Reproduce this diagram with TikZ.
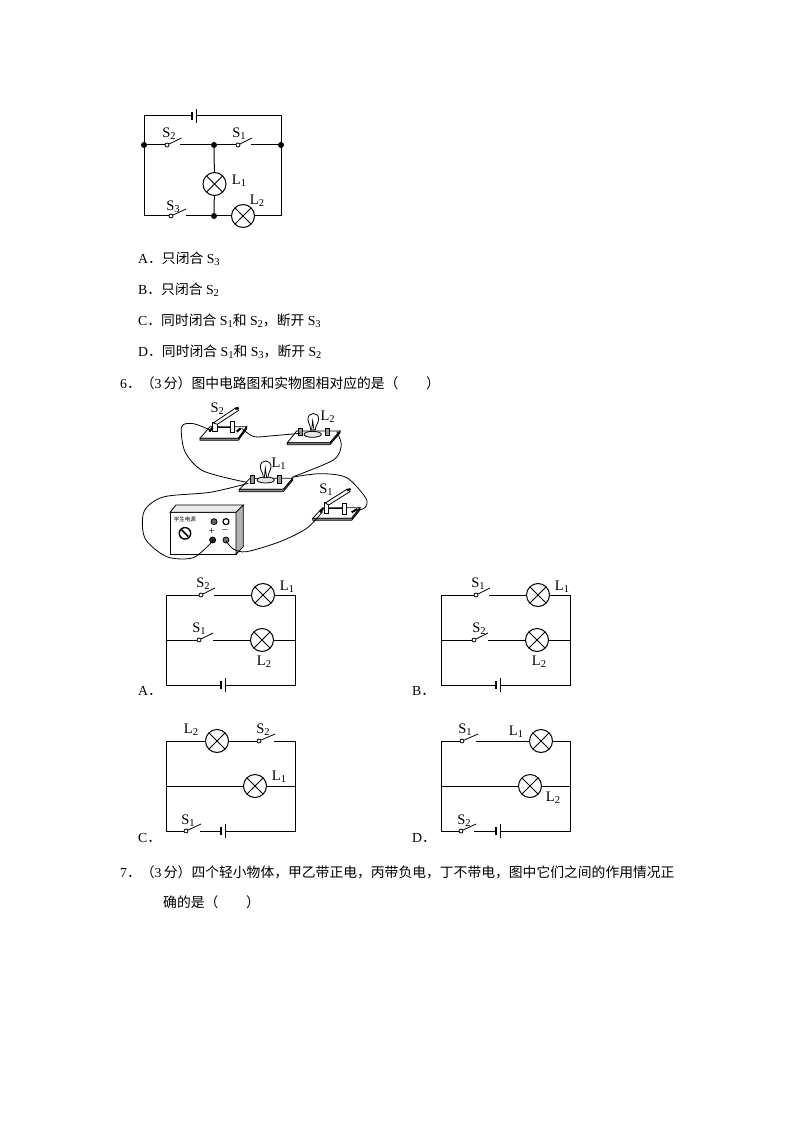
\documentclass[tikz,border=0pt]{standalone}
\usepackage{fontspec}
\setmainfont{Liberation Serif}
\newfontfamily\cjk{Noto Sans CJK SC}
\usetikzlibrary{positioning}
\tikzset{
  lamp/.style={draw,circle,fill=white,minimum size=23pt,inner sep=0,line width=1pt,
    path picture={\draw[line width=.9pt] (path picture bounding box.south west)--(path picture bounding box.north east)
      (path picture bounding box.north west)--(path picture bounding box.south east);}},
  pin/.style={draw,circle,fill=white,minimum size=4pt,inner sep=0,line width=.8pt},
  junc/.style={circle,fill=black,minimum size=6pt,inner sep=0},
  shortplate/.style={fill=black,minimum width=1.1pt,minimum height=8pt,inner sep=0},
  longplate/.style={fill=black,minimum width=1.1pt,minimum height=14pt,inner sep=0},
  lbl/.style={inner sep=0,font=\fontsize{14.5}{14.5}\selectfont},
  txt/.style={inner sep=0,anchor=west,font=\fontsize{13.8}{14}\selectfont},
  wire/.style={line width=1pt},
  thinwire/.style={line width=.8pt}
}
\newcommand{\subn}[1]{\raisebox{-.35ex}{\fontsize{10.5}{10.5}\selectfont #1}}
\begin{document}
\begin{tikzpicture}[x=1pt,y=-1pt]
  \useasboundingbox[fill=white] (0,0) rectangle (794,1123);
  % first circuit
  \coordinate (tl) at (144,116);
  \coordinate (tr) at (281,116);
  \coordinate (bl) at (144,216);
  \coordinate (br) at (281,216);
  \node[junc] (ml) at (144,145) {};
  \node[junc] (mm) at (214,145) {};
  \node[junc] (mr) at (281,145) {};
  \node[junc] (bm) at (214,216) {};
  \node[shortplate] (b1) at (192,116) {};
  \node[longplate] (b2) at (196.5,116) {};
  \node[lamp] (L1) at (214.5,184) {};
  \node[lamp] (L2) at (243,216) {};
  \node[pin] (s2) at (167,145) {};
  \coordinate (s2t) at (181.5,138);
  \coordinate (s2r) at (180,145);
  \node[pin] (s1) at (238,145) {};
  \coordinate (s1t) at (252,138);
  \coordinate (s1r) at (251,145);
  \node[pin] (s3) at (171,216) {};
  \coordinate (s3t) at (186,209);
  \coordinate (s3r) at (186,216);
  \draw[wire] (b1)--(tl)--(bl)--(s3);
  \draw[wire] (b2)--(tr)--(br)--(L2)--(bm)--(s3r);
  \draw[wire] (ml)--(s2) (s2r)--(mm)--(s1) (s1r)--(mr);
  \draw[wire] (mm)--(L1)--(bm);
  \draw[thinwire] (s2)--(s2t) (s1)--(s1t) (s3)--(s3t);
  \node[lbl] (ls2) at (169,134) {S\subn{2}};
  \node[lbl] (ls1) at (239,133.5) {S\subn{1}};
  \node[lbl] (ll1) at (239,181) {L\subn{1}};
  \node[lbl] (ll2) at (257,201) {L\subn{2}};
  \node[lbl] (ls3) at (173,207) {S\subn{3}};
  % answers of question 5
  \node[txt] (t1) at (138,259) {A{\cjk ．只闭合} S\subn{3}};
  \node[txt] (t2) at (138,290) {B{\cjk ．只闭合} S\subn{2}};
  \node[txt] (t3) at (138,321) {C{\cjk ．同时闭合} S\subn{1}{\cjk 和} S\subn{2}{\cjk ，断开} S\subn{3}};
  \node[txt] (t4) at (138,352) {D{\cjk ．同时闭合} S\subn{1}{\cjk 和} S\subn{3}{\cjk ，断开} S\subn{2}};
  \node[txt] (t5) at (120,383) {6{\cjk ．（}3\,{\cjk 分）图中电路图和实物图相对应的是（\quad\quad）}};
  % photo of the real circuit
  \begin{scope}[shift={(130,395)},x=.3333pt,y=-.3333pt,line width=.8pt]
    % switch S2
    \draw[fill=white] (210,130)--(240,95)--(350,95)--(325,130)--cycle;
    \draw[fill=black!45] (210,130)--(325,130)--(350,95)--(350,102)--(325,136)--(210,136)--cycle;
    \draw[line width=2pt] (238,110)--(248,98) (320,110)--(332,100);
    \draw[fill=white] (248,108) rectangle (262,82);
    \draw[fill=white] (302,112) rectangle (314,80);
    \draw (262,98)--(302,98);
    \draw[fill=white] (250,84)--(318,38)--(326,46)--(262,88)--cycle;
    \draw[line width=2pt] (316,42)--(326,38);
    % lamp L2
    \draw[fill=white] (472,143)--(500,108)--(630,108)--(600,143)--cycle;
    \draw[fill=black!45] (472,143)--(600,143)--(630,108)--(630,114)--(600,149)--(472,149)--cycle;
    \draw[fill=black!10] (548,118) ellipse (26 and 9);
    \draw[fill=white] (534,72) .. controls (534,50) and (566,50) .. (566,72) .. controls (566,85) and (556,90) .. (556,105) -- (542,105) .. controls (542,90) and (534,85) .. (534,72) -- cycle;
    \draw (545,105)--(548,78)--(552,105);
    \draw[fill=black!40] (504,100) rectangle (516,122);
    \draw[fill=black!40] (586,100) rectangle (598,122);
    % lamp L1
    \draw[fill=white] (328,283)--(360,250)--(488,250)--(460,283)--cycle;
    \draw[fill=black!45] (328,283)--(460,283)--(488,250)--(488,256)--(460,290)--(328,290)--cycle;
    \draw[fill=black!10] (407,255) ellipse (26 and 9);
    \draw[fill=white] (391,215) .. controls (391,192) and (423,192) .. (423,215) .. controls (423,228) and (414,232) .. (414,248) -- (400,248) .. controls (400,232) and (391,228) .. (391,215) -- cycle;
    \draw (403,248)--(406,220)--(410,248);
    \draw[fill=black!40] (361,240) rectangle (373,264);
    \draw[fill=black!40] (442,240) rectangle (454,264);
    % switch S1
    \draw[fill=white] (548,370)--(578,338)--(690,338)--(665,370)--cycle;
    \draw[fill=black!45] (548,370)--(665,370)--(690,338)--(690,345)--(665,376)--(548,376)--cycle;
    \draw[line width=2pt] (570,352)--(580,340) (665,352)--(682,342);
    \draw[fill=white] (584,356) rectangle (596,322);
    \draw[fill=white] (636,358) rectangle (648,326);
    \draw (596,340)--(636,340);
    \draw[fill=white] (586,324)--(652,282)--(660,290)--(596,330)--cycle;
    \draw[line width=2pt] (650,286)--(662,282);
    % power supply
    \draw[fill=white] (120,352) rectangle (318,478);
    \draw[fill=black!8] (120,352)--(138,330)--(340,330)--(318,352)--cycle;
    \draw[fill=black!30] (318,352)--(340,330)--(340,455)--(318,478)--cycle;
    \node[inner sep=0] (ps) at (165,374) {\fontsize{5.5}{6}\selectfont\cjk 学生电源};
    \node[draw,circle,line width=1.4pt,minimum size=11.5pt,inner sep=0] (knob) at (165,415) {};
    \draw[line width=1.6pt] (155,405)--(175,425);
    \node[draw,circle,fill=black!60,minimum size=6pt,inner sep=0] (k1) at (252,380) {};
    \node[draw,circle,line width=1.2pt,minimum size=6pt,inner sep=0] (k2) at (288,380) {};
    \node[inner sep=0] (plus) at (245,410) {\fontsize{11}{11}\selectfont +};
    \node[inner sep=0] (minus) at (285,410) {\fontsize{11}{11}\selectfont −};
    \node[draw,circle,fill=black!85,minimum size=6pt,inner sep=0] (tp) at (248,435) {};
    \node[draw,circle,fill=black!55,minimum size=6pt,inner sep=0] (tm) at (288,435) {};
    % wires
    \draw[smooth] plot coordinates {(240,105) (190,86) (155,95) (165,170) (220,228) (350,262)};
    \draw[smooth] plot coordinates {(335,100) (372,125) (430,122) (510,115)};
    \draw[smooth] plot coordinates {(620,110) (634,150) (610,195) (490,245)};
    \draw[smooth] plot coordinates {(485,247) (570,236) (650,248) (708,310) (705,338) (680,346)};
    \draw[smooth] plot coordinates {(355,265) (240,292) (100,306) (42,350) (45,430) (110,485) (190,488) (248,438)};
    \draw[smooth] plot coordinates {(578,350) (530,400) (450,440) (350,470) (310,462) (288,438)};
    \node[lbl] (ps2) at (262,42) {S\subn{2}};
    \node[lbl] (pl2) at (593,66) {L\subn{2}};
    \node[lbl] (pl1) at (446,206) {L\subn{1}};
    \node[lbl] (ps1) at (588,284) {S\subn{1}};
  \end{scope}
  % circuit A
  \coordinate (atl) at (166,595);
  \coordinate (atr) at (295.5,595);
  \coordinate (aml) at (166,640);
  \coordinate (amr) at (295.5,640);
  \coordinate (abl) at (166,685);
  \coordinate (abr) at (295.5,685);
  \node[lamp] (aL1) at (263,595) {};
  \node[lamp] (aL2) at (262,640) {};
  \node[pin] (as2) at (201,595) {};
  \coordinate (as2t) at (215,588);
  \coordinate (as2r) at (214,595);
  \node[pin] (as1) at (199,640) {};
  \coordinate (as1t) at (213,633);
  \coordinate (as1r) at (213,640);
  \node[shortplate] (ab1) at (221,685) {};
  \node[longplate] (ab2) at (225.5,685) {};
  \draw[wire] (as2)--(atl)--(abl)--(ab1) (ab2)--(abr)--(atr)--(aL1)--(as2r);
  \draw[wire] (aml)--(as1) (as1r)--(aL2)--(amr);
  \draw[thinwire] (as2)--(as2t) (as1)--(as1t);
  \node[lbl] (als2) at (203,584) {S\subn{2}};
  \node[lbl] (all1) at (287,587) {L\subn{1}};
  \node[lbl] (als1) at (199,629) {S\subn{1}};
  \node[lbl] (all2) at (264,662) {L\subn{2}};
  \node[txt] (aa) at (138,691) {A{\cjk ．}};
  % circuit B
  \coordinate (btl) at (441,595);
  \coordinate (btr) at (570,595);
  \coordinate (bml) at (441,640);
  \coordinate (bmr) at (570,640);
  \coordinate (bbl) at (441,685);
  \coordinate (bbr) at (570,685);
  \node[lamp] (bL1) at (538,595) {};
  \node[lamp] (bL2) at (537,640) {};
  \node[pin] (bs1) at (476,595) {};
  \coordinate (bs1t) at (490,588);
  \coordinate (bs1r) at (489,595);
  \node[pin] (bs2) at (474,640) {};
  \coordinate (bs2t) at (488,633);
  \coordinate (bs2r) at (488,640);
  \node[shortplate] (bb1) at (496,685) {};
  \node[longplate] (bb2) at (500.5,685) {};
  \draw[wire] (bs1)--(btl)--(bbl)--(bb1) (bb2)--(bbr)--(btr)--(bL1)--(bs1r);
  \draw[wire] (bml)--(bs2) (bs2r)--(bL2)--(bmr);
  \draw[thinwire] (bs1)--(bs1t) (bs2)--(bs2t);
  \node[lbl] (bls1) at (478,584) {S\subn{1}};
  \node[lbl] (bll1) at (562,587) {L\subn{1}};
  \node[lbl] (bls2) at (479,629) {S\subn{2}};
  \node[lbl] (bll2) at (539,662) {L\subn{2}};
  \node[txt] (ba) at (412,691) {B{\cjk ．}};
  % circuit C
  \coordinate (ctl) at (166,741);
  \coordinate (ctr) at (295.5,741);
  \coordinate (cml) at (166,786);
  \coordinate (cmr) at (295.5,786);
  \coordinate (cbl) at (166,831);
  \coordinate (cbr) at (295.5,831);
  \node[lamp] (cL2) at (217,741) {};
  \node[lamp] (cL1) at (255,786) {};
  \node[pin] (cs2) at (259,741) {};
  \coordinate (cs2t) at (275,734);
  \coordinate (cs2r) at (274,741);
  \node[pin] (cs1) at (186,831) {};
  \coordinate (cs1t) at (201,824);
  \coordinate (cs1r) at (200,831);
  \node[shortplate] (cb1) at (221,831) {};
  \node[longplate] (cb2) at (225.5,831) {};
  \draw[wire] (cs2)--(cL2)--(ctl)--(cbl)--(cs1) (cs1r)--(cb1) (cb2)--(cbr)--(ctr)--(cs2r);
  \draw[wire] (cml)--(cL1)--(cmr);
  \draw[thinwire] (cs2)--(cs2t) (cs1)--(cs1t);
  \node[lbl] (cll2) at (191,730) {L\subn{2}};
  \node[lbl] (cls2) at (263,730) {S\subn{2}};
  \node[lbl] (cll1) at (279,777) {L\subn{1}};
  \node[lbl] (cls1) at (188,821) {S\subn{1}};
  \node[txt] (ca) at (138,838) {C{\cjk ．}};
  % circuit D
  \coordinate (dtl) at (441,741);
  \coordinate (dtr) at (570,741);
  \coordinate (dml) at (441,786);
  \coordinate (dmr) at (570,786);
  \coordinate (dbl) at (441,831);
  \coordinate (dbr) at (570,831);
  \node[lamp] (dL1) at (541,741) {};
  \node[lamp] (dL2) at (530,786) {};
  \node[pin] (ds1) at (462,741) {};
  \coordinate (ds1t) at (478,734);
  \coordinate (ds1r) at (476,741);
  \node[pin] (ds2) at (461,831) {};
  \coordinate (ds2t) at (476,824);
  \coordinate (ds2r) at (474,831);
  \node[shortplate] (db1) at (496,831) {};
  \node[longplate] (db2) at (500.5,831) {};
  \draw[wire] (ds1)--(dtl)--(dbl)--(ds2) (ds2r)--(db1) (db2)--(dbr)--(dtr)--(dL1)--(ds1r);
  \draw[wire] (dml)--(dL2)--(dmr);
  \draw[thinwire] (ds1)--(ds1t) (ds2)--(ds2t);
  \node[lbl] (dls1) at (465,730) {S\subn{1}};
  \node[lbl] (dll1) at (516,732) {L\subn{1}};
  \node[lbl] (dll2) at (553,798) {L\subn{2}};
  \node[lbl] (dls2) at (464,821) {S\subn{2}};
  \node[txt] (da) at (412,838) {D{\cjk ．}};
  % question 7
  \node[txt] (q1) at (120,872) {7{\cjk ．（}3\,{\cjk 分）四个轻小物体，甲乙带正电，丙带负电，丁不带电，图中它们之间的作用情况正}};
  \node[txt] (q2) at (163,902) {\cjk 确的是（\quad\quad）};
\end{tikzpicture}
\end{document}
